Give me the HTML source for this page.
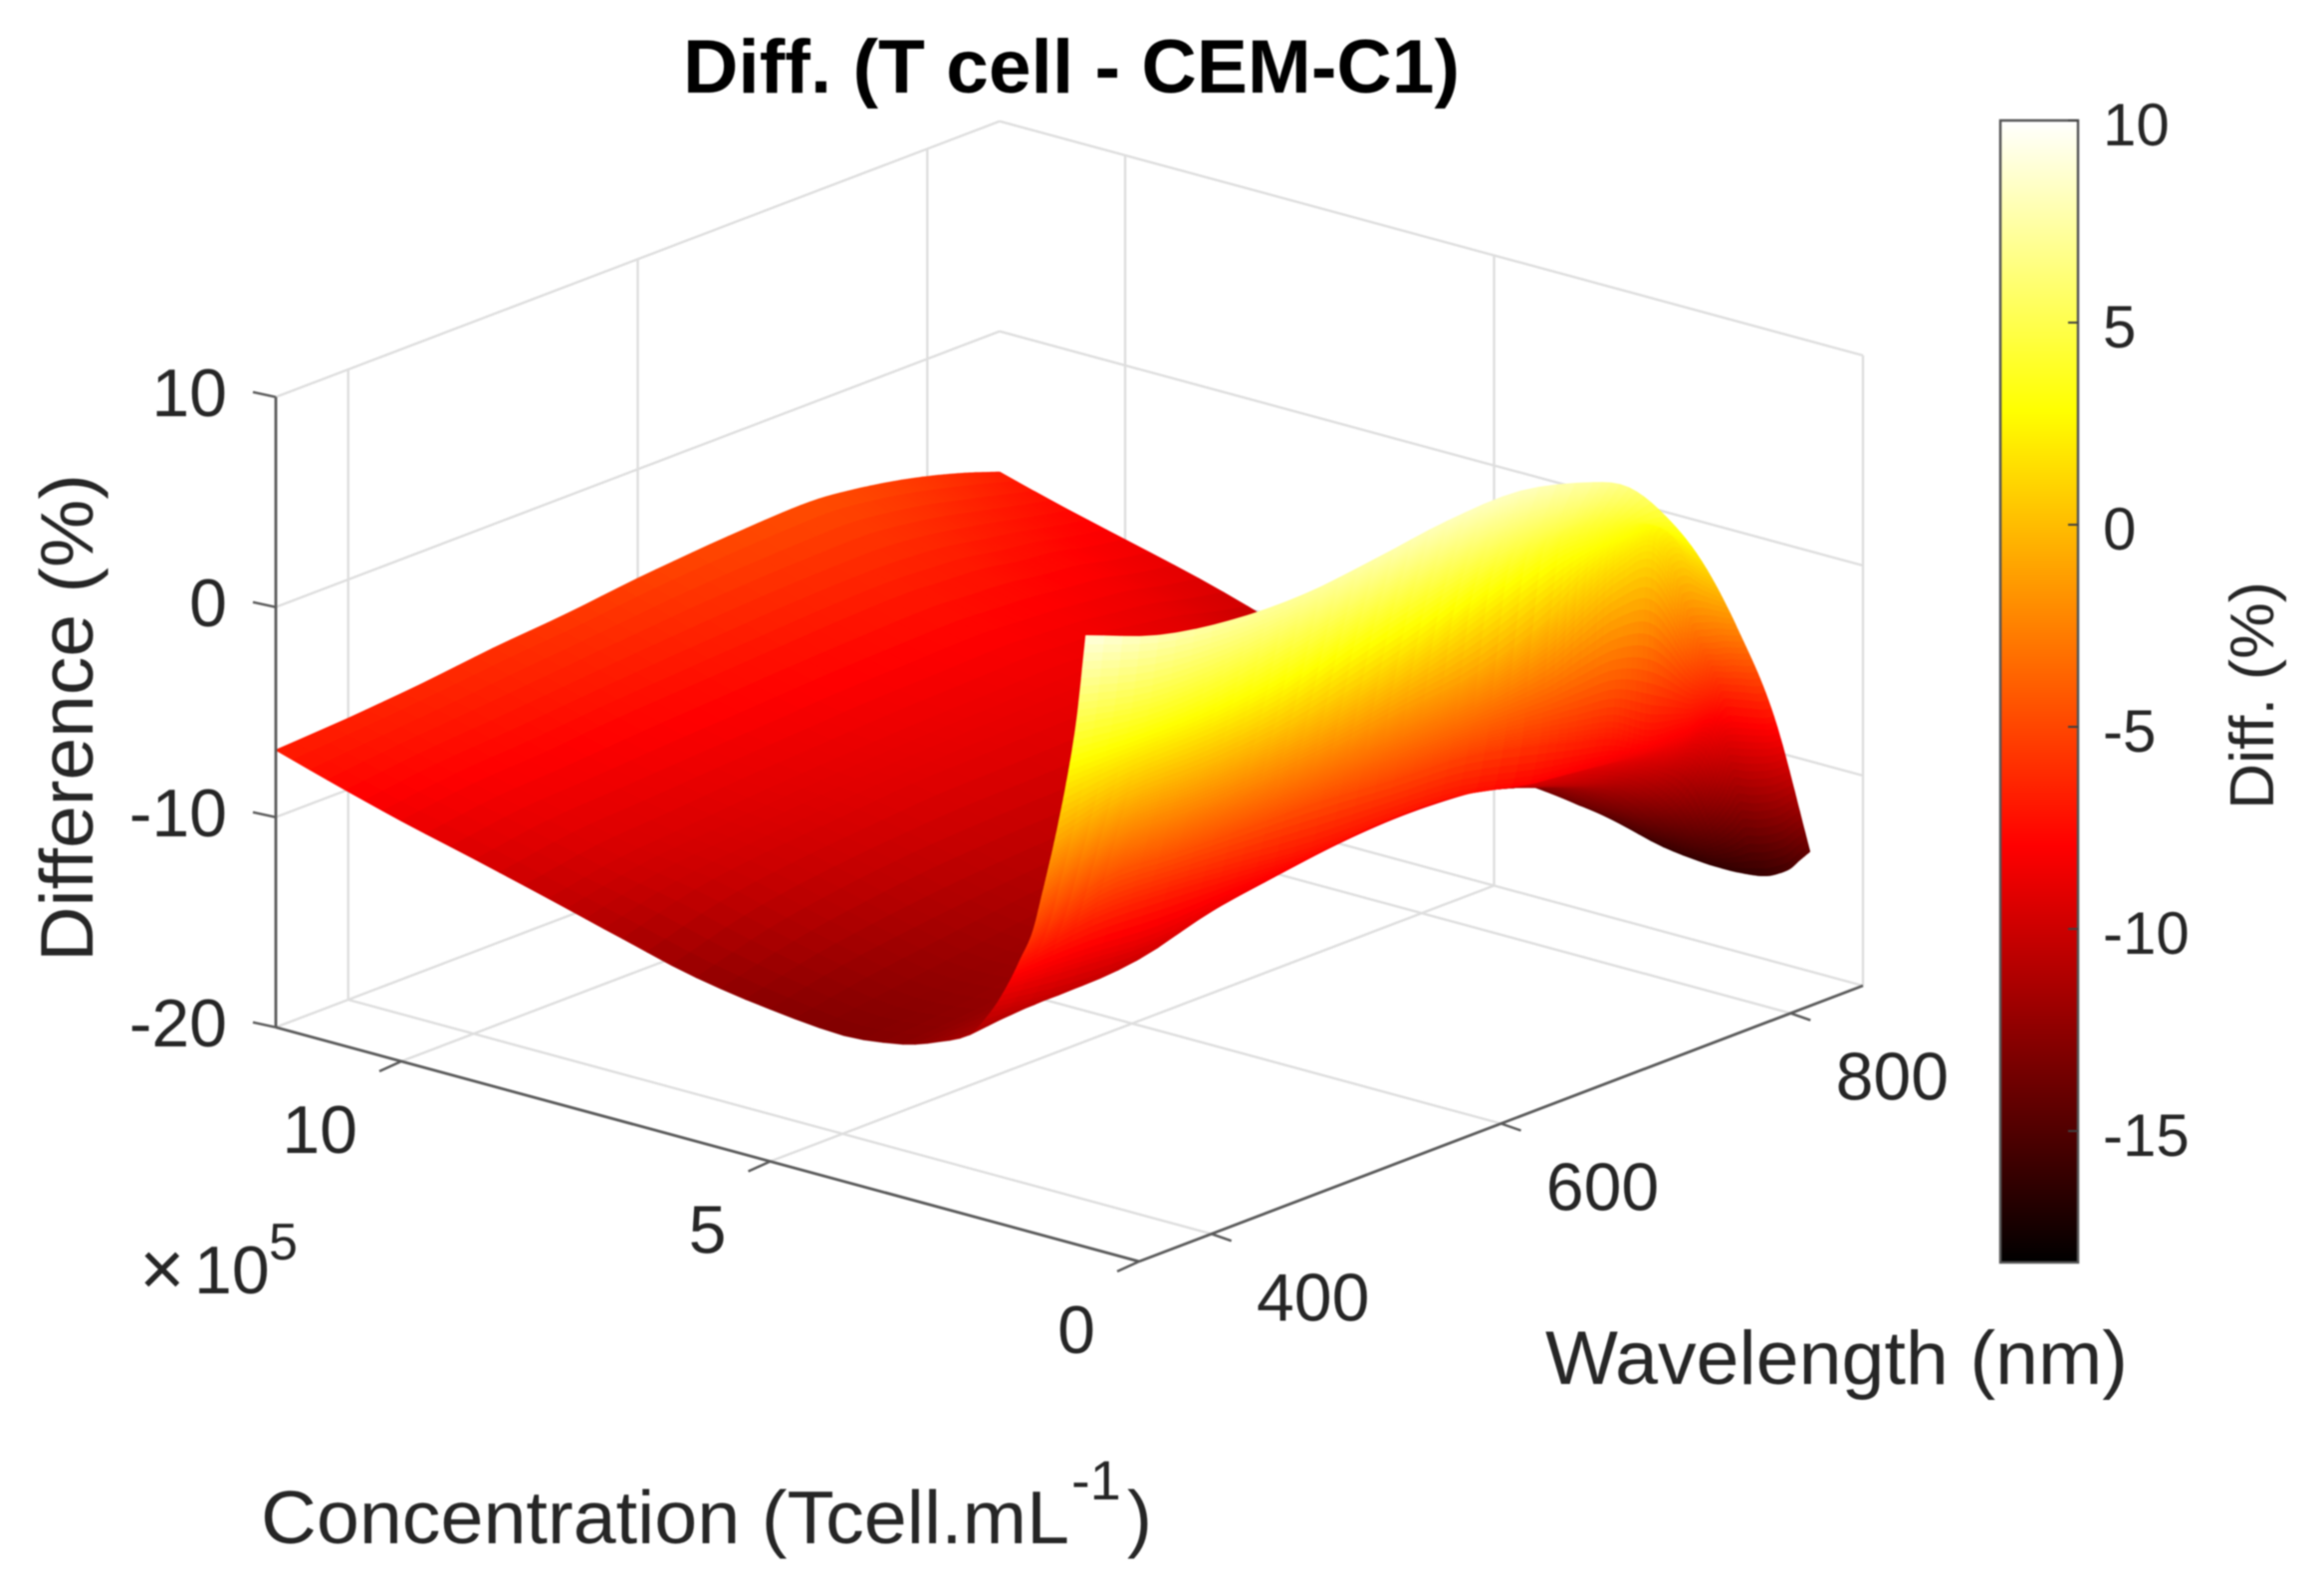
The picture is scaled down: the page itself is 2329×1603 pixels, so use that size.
<!DOCTYPE html>
<html lang="en">
<head>
<meta charset="utf-8">
<title>Diff. (T cell - CEM-C1)</title>
<style>
html,body{margin:0;padding:0;background:#fff;}
svg{display:block;filter:blur(0.9px);}
text{font-family:"Liberation Sans",Arial,sans-serif;fill:#262626;}
</style>
</head>
<body>
<svg id="chart" xmlns="http://www.w3.org/2000/svg" width="2329" height="1603" viewBox="0 0 2329 1603">
  <rect x="0" y="0" width="2329" height="1603" fill="#ffffff"/>
  <defs>
    <linearGradient id="hotGradient" x1="0" y1="1" x2="0" y2="0"></linearGradient>
  </defs>
  <g id="gridLayer"></g>
  <g id="surfaceLayer"></g>
  <g id="axisLayer"></g>
  <g id="colorbarLayer"></g>

  <text x="686" y="93" font-size="76" font-weight="bold" style="fill:#000" textLength="780" lengthAdjust="spacingAndGlyphs">Diff. (T cell - CEM-C1)</text>
  <text transform="translate(93 966) rotate(-90)" font-size="75" textLength="490" lengthAdjust="spacingAndGlyphs">Difference (%)</text>
  <text x="1552" y="1390" font-size="76" textLength="585" lengthAdjust="spacingAndGlyphs">Wavelength (nm)</text>
  <text x="262" y="1550" font-size="75" textLength="812" lengthAdjust="spacingAndGlyphs">Concentration (Tcell.mL</text>
  <text x="1076" y="1506" font-size="56">-1</text>
  <text x="1132" y="1550" font-size="75">)</text>
  <text x="140" y="1301" font-size="78">×</text>
  <text x="195" y="1299" font-size="68">10</text>
  <text x="270" y="1265" font-size="52">5</text>
  <text transform="translate(2283 813) rotate(-90)" font-size="62" textLength="229" lengthAdjust="spacingAndGlyphs">Diff. (%)</text>
</svg>

<script>
// ---- chart data ----
const concentrationValues = [0.72,0.85,1.0,1.15,1.3,1.45,1.6,1.8,2.0,2.3,2.7,3.2,4,5,6,7,8,9,10,11,11.7];
const wavelengthValues = [350,400,450,500,550,600,650,700,725,750,775,800,825,850];
// one row per concentration (x 10^5), one column per wavelength
const differenceRows = [
  [9.1,7.8,7.2,7.1,7.5,8.0,8.1,7.2,6.3,4.3,1.5,-2.4,-7.2,-14.3],
  [4.8,4.2,4.3,4.9,5.6,6.3,6.6,6.2,5.6,4.1,1.7,-2.5,-7.4,-14.8],
  [1.5,1.75,1.85,2.3,3.4,4.3,5.0,5.1,4.8,3.8,2.0,-2.6,-7.5,-15.4],
  [-1.2,-0.3,-0.27,0.0,0.7,1.7,3.1,4.1,3.9,3.5,2.5,-2.8,-7.6,-15.75],
  [-3.6,-2.35,-2.4,-2.3,-2.0,-1.5,-1.05,0.25,1.4,2.2,2.0,-3.0,-7.7,-16.0],
  [-5.8,-4.4,-4.5,-4.6,-4.7,-5.0,-5.2,-6.0,-6.5,-7.0,-8.0,-8.0,-8.2,-16.12],
  [-7.1,-6.5,-6.6,-6.9,-7.2,-7.1,-7.25,-8.0,-8.2,-8.4,-8.6,-9.0,-9.8,-16.18],
  [-8.7,-9.0,-9.2,-8.6,-8.1,-7.6,-7.5,-8.1,-8.4,-8.7,-9.1,-9.9,-11.5,-16.22],
  [-10.0,-10.4,-10.2,-9.2,-8.6,-8.2,-8.0,-8.4,-8.8,-9.1,-9.7,-10.7,-12.7,-16.22],
  [-11.4,-11.0,-10.6,-10.0,-9.5,-9.0,-8.8,-9.0,-9.4,-9.9,-10.6,-11.5,-13.4,-16.15],
  [-12.1,-11.7,-11.3,-10.8,-10.2,-9.8,-9.5,-9.7,-10.0,-10.5,-11.1,-12.0,-13.8,-15.97],
  [-12.7,-12.4,-11.9,-11.4,-10.9,-10.5,-10.2,-10.3,-10.6,-11.0,-11.6,-12.3,-13.9,-15.5],
  [-13.05,-12.6,-12.1,-11.6,-11.2,-10.9,-10.7,-10.7,-10.9,-11.2,-11.8,-12.6,-13.6,-14.7],
  [-12.75,-12.0,-11.5,-11.1,-10.8,-10.6,-10.4,-10.3,-10.4,-10.6,-11.0,-11.5,-12.5,-13.8],
  [-12.2,-11.2,-10.6,-10.2,-10.0,-9.9,-9.8,-9.8,-9.9,-10.0,-10.2,-10.7,-11.4,-12.8],
  [-11.3,-10.3,-9.8,-9.5,-9.2,-9.1,-9.0,-9.0,-9.1,-9.3,-9.6,-10.0,-10.6,-11.8],
  [-10.35,-9.7,-9.4,-9.1,-8.9,-8.7,-8.6,-8.5,-8.6,-8.7,-9.0,-9.3,-9.8,-10.3],
  [-9.43,-8.9,-8.7,-8.5,-8.3,-8.1,-8.0,-7.9,-8.0,-8.1,-8.3,-8.5,-8.9,-9.2],
  [-8.55,-8.1,-7.9,-7.6,-7.4,-7.2,-7.0,-6.9,-7.0,-7.1,-7.4,-7.6,-8.0,-8.3],
  [-7.55,-7.2,-6.9,-6.6,-6.3,-6.0,-5.8,-5.7,-5.7,-5.9,-6.2,-6.6,-7.0,-7.4],
  [-6.8,-6.6,-6.3,-5.9,-5.6,-5.2,-4.9,-4.7,-4.7,-4.9,-5.2,-5.6,-6.1,-6.7]
];
const zTicks = [-20,-10,0,10];
const zTickLabels = ["-20","-10","0","10"];
const concentrationTicks = [0,5,10];
const concentrationTickLabels = ["0","5","10"];
const wavelengthTicks = [400,600,800];
const wavelengthTickLabels = ["400","600","800"];
const colorbarTicks = [-15,-10,-5,0,5,10];
const colorbarTickLabels = ["-15","-10","-5","0","5","10"];

// ---- axis limits and axis functions ----
const concMax = 11.7, wlMin = 350, wlMax = 850, zMin = -20, zMax = 10;
const colorMin = -18.25, colorMax = 10;
const NS = "http://www.w3.org/2000/svg";

function sx(c, w) { return 1144 - 74.1 * c + (727 / 500) * (w - wlMin); }
function sy(c, w, z) { return 1267 - 20.1 * c - (277 / 500) * (w - wlMin) - 21.1 * (z - zMin); }
function colorbarY(z) { return 527 - 40.6 * z; }

function hot(z) {
  const t = Math.max(0, Math.min(1, (z - colorMin) / (colorMax - colorMin)));
  const r = Math.min(1, t / 0.365);
  const g = Math.max(0, Math.min(1, (t - 0.365) / 0.381));
  const b = Math.max(0, Math.min(1, (t - 0.746) / 0.254));
  return "rgb(" + Math.round(r * 255) + "," + Math.round(g * 255) + "," + Math.round(b * 255) + ")";
}

function makeLine(parent, x1, y1, x2, y2, stroke, width) {
  const l = document.createElementNS(NS, "line");
  l.setAttribute("x1", x1.toFixed(1));
  l.setAttribute("y1", y1.toFixed(1));
  l.setAttribute("x2", x2.toFixed(1));
  l.setAttribute("y2", y2.toFixed(1));
  l.setAttribute("stroke", stroke);
  l.setAttribute("stroke-width", width);
  parent.appendChild(l);
  return l;
}
function makeText(parent, x, y, size, anchor, str) {
  const t = document.createElementNS(NS, "text");
  t.setAttribute("x", x.toFixed(1));
  t.setAttribute("y", y.toFixed(1));
  t.setAttribute("font-size", size);
  t.setAttribute("text-anchor", anchor);
  t.textContent = str;
  parent.appendChild(t);
  return t;
}

// ---- grid ----
const gridLayer = document.getElementById("gridLayer");
const gridColor = "#dedede", gridWidth = 2.4;
zTicks.forEach(function (z) {
  const a = makeLine(gridLayer, sx(concMax, wlMin), sy(concMax, wlMin, z), sx(concMax, wlMax), sy(concMax, wlMax, z), gridColor, gridWidth);
  
  
  const b = makeLine(gridLayer, sx(concMax, wlMax), sy(concMax, wlMax, z), sx(0, wlMax), sy(0, wlMax, z), gridColor, gridWidth);
  
  
});
wavelengthTicks.forEach(function (w) {
  const a = makeLine(gridLayer, sx(concMax, w), sy(concMax, w, zMin), sx(concMax, w), sy(concMax, w, zMax), gridColor, gridWidth);
  
  
  const b = makeLine(gridLayer, sx(0, w), sy(0, w, zMin), sx(concMax, w), sy(concMax, w, zMin), gridColor, gridWidth);
  
  
});
concentrationTicks.forEach(function (c) {
  const a = makeLine(gridLayer, sx(c, wlMax), sy(c, wlMax, zMin), sx(c, wlMax), sy(c, wlMax, zMax), gridColor, gridWidth);
  
  
  const b = makeLine(gridLayer, sx(c, wlMin), sy(c, wlMin, zMin), sx(c, wlMax), sy(c, wlMax, zMin), gridColor, gridWidth);
  
  
});

// ---- surface: smooth spline through the table, painted far to near ----
function rowAt(row, j, f) {
  const n = row.length;
  const p0 = row[Math.max(0, j - 1)], p1 = row[j], p2 = row[Math.min(n - 1, j + 1)], p3 = row[Math.min(n - 1, j + 2)];
  const h1 = wavelengthValues[j + 1] - wavelengthValues[j];
  const m1 = (j > 0 ? (p2 - p0) / (wavelengthValues[j + 1] - wavelengthValues[j - 1]) : (p2 - p1) / h1) * h1;
  const m2 = (j < n - 2 ? (p3 - p1) / (wavelengthValues[j + 2] - wavelengthValues[j]) : (p2 - p1) / h1) * h1;
  const f2 = f * f, f3 = f2 * f;
  return (2 * f3 - 3 * f2 + 1) * p1 + (f3 - 2 * f2 + f) * m1 + (-2 * f3 + 3 * f2) * p2 + (f3 - f2) * m2;
}
function monoTangent(d1, d2, h1, h2) {
  if (d1 * d2 <= 0) return 0;
  const a = (h1 + 2 * h2) / (3 * (h1 + h2)), b = (2 * h1 + h2) / (3 * (h1 + h2));
  return d1 * d2 / (a * d2 + b * d1);
}
function zAt(i, u, j, v) {
  const cs = concentrationValues, n = cs.length;
  const z1 = rowAt(differenceRows[i], j, v), z2 = rowAt(differenceRows[i + 1], j, v);
  const h = cs[i + 1] - cs[i], d = (z2 - z1) / h;
  let m1 = d, m2 = d;
  if (i > 0) {
    const z0 = rowAt(differenceRows[i - 1], j, v);
    m1 = monoTangent((z1 - z0) / (cs[i] - cs[i - 1]), d, cs[i] - cs[i - 1], h);
  }
  if (i < n - 2) {
    const z3 = rowAt(differenceRows[i + 2], j, v);
    m2 = monoTangent(d, (z3 - z2) / (cs[i + 2] - cs[i + 1]), h, cs[i + 2] - cs[i + 1]);
  }
  const u2 = u * u, u3 = u2 * u;
  return (2 * u3 - 3 * u2 + 1) * z1 + (u3 - 2 * u2 + u) * h * m1 + (-2 * u3 + 3 * u2) * z2 + (u3 - u2) * h * m2;
}

// mesh density follows how fast the table changes, so colour stays smooth on steep parts
const zStep = 0.4;
const cParts = [], wParts = [];
for (let i = 0; i < concentrationValues.length - 1; i++) {
  let maxD = 0;
  for (let j = 0; j < wavelengthValues.length; j++) {
    maxD = Math.max(maxD, Math.abs(differenceRows[i + 1][j] - differenceRows[i][j]));
  }
  cParts.push(Math.max(3, Math.ceil(maxD / zStep)));
}
for (let j = 0; j < wavelengthValues.length - 1; j++) {
  let maxD = 0;
  for (let i = 0; i < concentrationValues.length; i++) {
    maxD = Math.max(maxD, Math.abs(differenceRows[i][j + 1] - differenceRows[i][j]));
  }
  wParts.push(Math.max(4, Math.ceil(maxD / zStep)));
}
const meshRows = [], meshCols = [];
for (let i = 0; i < cParts.length; i++) {
  for (let a = 0; a < cParts[i]; a++) meshRows.push([i, a / cParts[i]]);
}
meshRows.push([cParts.length - 1, 1]);
for (let j = 0; j < wParts.length; j++) {
  for (let b = 0; b < wParts[j]; b++) meshCols.push([j, b / wParts[j]]);
}
meshCols.push([wParts.length - 1, 1]);

function cOf(rowKey) { return concentrationValues[rowKey[0]] + (concentrationValues[rowKey[0] + 1] - concentrationValues[rowKey[0]]) * rowKey[1]; }
function wOf(colKey) { return wavelengthValues[colKey[0]] + (wavelengthValues[colKey[0] + 1] - wavelengthValues[colKey[0]]) * colKey[1]; }

const meshC = meshRows.map(cOf), meshW = meshCols.map(wOf);
const meshZ = meshRows.map(function (r) {
  return meshCols.map(function (k) { return zAt(r[0], r[1], k[0], k[1]); });
});

const surfaceLayer = document.getElementById("surfaceLayer");
const frag = document.createDocumentFragment();
for (let i = meshC.length - 2; i >= 0; i--) {
  for (let j = meshW.length - 2; j >= 0; j--) {
    const c0 = meshC[i], c1 = meshC[i + 1], w0 = meshW[j], w1 = meshW[j + 1];
    const z00 = meshZ[i][j], z01 = meshZ[i][j + 1], z10 = meshZ[i + 1][j], z11 = meshZ[i + 1][j + 1];
    const pts = [
      sx(c0, w0).toFixed(1) + "," + sy(c0, w0, z00).toFixed(1),
      sx(c0, w1).toFixed(1) + "," + sy(c0, w1, z01).toFixed(1),
      sx(c1, w1).toFixed(1) + "," + sy(c1, w1, z11).toFixed(1),
      sx(c1, w0).toFixed(1) + "," + sy(c1, w0, z10).toFixed(1)
    ].join(" ");
    const col = hot((z00 + z01 + z10 + z11) / 4);
    const cell = document.createElementNS(NS, "polygon");
    
    
    cell.setAttribute("points", pts);
    cell.setAttribute("fill", col);
    cell.setAttribute("stroke", col);
    cell.setAttribute("stroke-width", "1");
    cell.setAttribute("stroke-linejoin", "round");
    frag.appendChild(cell);
  }
}
surfaceLayer.appendChild(frag);

// ---- axes ----
const axisLayer = document.getElementById("axisLayer");
const axisColor = "#5a5a5a", axisWidth = 2.8;
const zAxisLine = makeLine(axisLayer, sx(concMax, wlMin), sy(concMax, wlMin, zMin), sx(concMax, wlMin), sy(concMax, wlMin, zMax), axisColor, axisWidth);


const concAxisLine = makeLine(axisLayer, sx(concMax, wlMin), sy(concMax, wlMin, zMin), sx(0, wlMin), sy(0, wlMin, zMin), axisColor, axisWidth);


const wlAxisLine = makeLine(axisLayer, sx(0, wlMin), sy(0, wlMin, zMin), sx(0, wlMax), sy(0, wlMax, zMin), axisColor, axisWidth);



zTicks.forEach(function (z, i) {
  const x = sx(concMax, wlMin), y = sy(concMax, wlMin, z);
  const t = makeLine(axisLayer, x, y, x - 23, y - 5, axisColor, 2.5);
  
  
  const l = makeText(axisLayer, 228, y + 19, 68, "end", zTickLabels[i]);
  
  
});
concentrationTicks.forEach(function (c, i) {
  const x = sx(c, wlMin), y = sy(c, wlMin, zMin);
  const t = makeLine(axisLayer, x, y, x - 22, y + 10, axisColor, 2.5);
  
  
  const l = makeText(axisLayer, x - 44, y + 92, 68, "end", concentrationTickLabels[i]);
  
  
});
wavelengthTicks.forEach(function (w, i) {
  const x = sx(0, w), y = sy(0, w, zMin);
  const t = makeLine(axisLayer, x, y, x + 20, y + 7, axisColor, 2.5);
  
  
  const l = makeText(axisLayer, x + 102, y + 87, 68, "middle", wavelengthTickLabels[i]);
  
  
});

// ---- colorbar ----
const grad = document.getElementById("hotGradient");
[colorMin, -7.94, 2.82, colorMax].forEach(function (z) {
  const s = document.createElementNS(NS, "stop");
  s.setAttribute("offset", ((z - colorMin) / (colorMax - colorMin)).toFixed(4));
  s.setAttribute("stop-color", hot(z));
  grad.appendChild(s);
});
const colorbarLayer = document.getElementById("colorbarLayer");
const bar = document.createElementNS(NS, "rect");


bar.setAttribute("x", "2009");
bar.setAttribute("y", colorbarY(colorMax).toFixed(1));
bar.setAttribute("width", "78");
bar.setAttribute("height", (colorbarY(colorMin) - colorbarY(colorMax)).toFixed(1));
bar.setAttribute("fill", "url(#hotGradient)");
bar.setAttribute("stroke", "#555555");
bar.setAttribute("stroke-width", "2.5");
colorbarLayer.appendChild(bar);
colorbarTicks.forEach(function (z, i) {
  const y = colorbarY(z);
  const t = makeLine(colorbarLayer, 2087, y, 2077, y, "#404040", 2);
  
  
  const l = makeText(colorbarLayer, 2112, y + 25, 60, "start", colorbarTickLabels[i]);
  
  
});
</script>
</body>
</html>
